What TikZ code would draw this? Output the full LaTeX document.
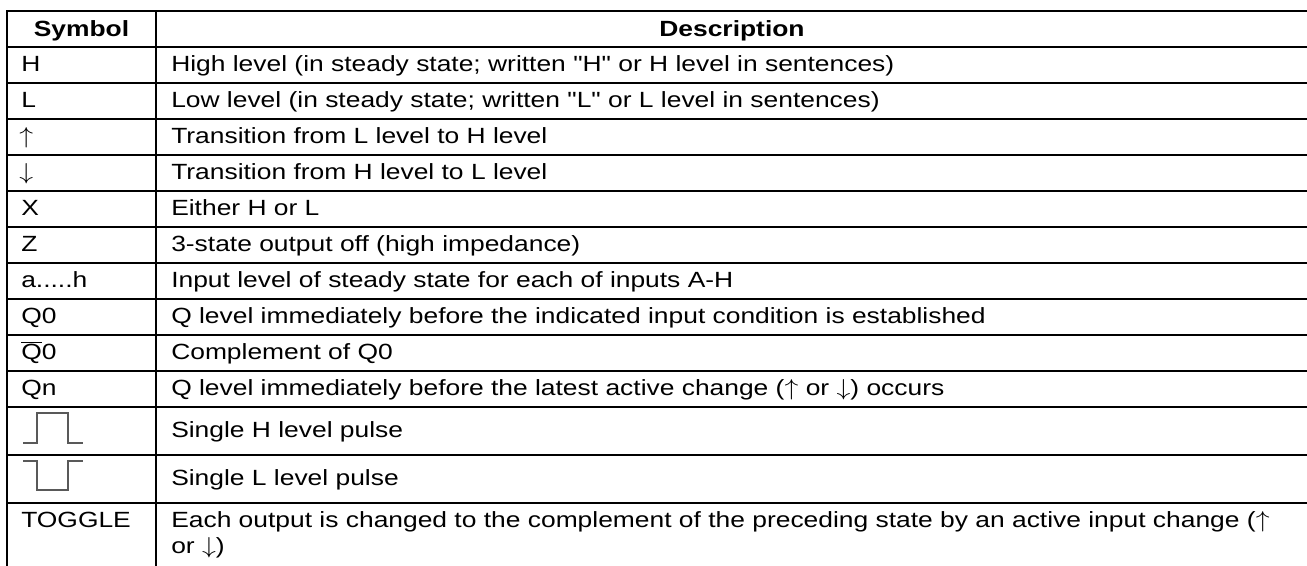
\documentclass[tikz,border=0pt]{standalone}
\usepackage{fontspec}
\setmainfont{Liberation Sans}[Ligatures=TeXOff, FakeStretch=1.2]
\newcommand{\qbar}{$\overline{\hbox{Q}}$0}
\newcommand{\upar}{\scalebox{1.2}[1]{$\uparrow$}}
\newcommand{\dnar}{\scalebox{1.2}[1]{$\downarrow$}}
\begin{document}
\begin{tikzpicture}[x=0.75pt,y=-0.75pt,
  cell/.style={anchor=base west, inner sep=0pt, font=\fontsize{16.5pt}{19.5pt}\selectfont},
  head/.style={anchor=base, inner sep=0pt, font=\fontsize{16.5pt}{19.5pt}\selectfont\bfseries},
  grid/.style={line width=1.5pt, line cap=rect},
  pulse/.style={line width=0.8pt, draw=black!65}]
\useasboundingbox (0,0) rectangle (1307,565);
% grid
\foreach \t in {11,47,83,119,155,191,227,263,299,335,371,407,455,503}
  \draw[grid] (7,\t) -- (1308,\t);
\draw[grid] (7,11) -- (7,566);
\draw[grid] (156,11) -- (156,566);
% header
\node[head] (hs) at (81.5,36) {Symbol};
\node[head] (hd) at (732,36) {Description};
% rows
\node[cell] (s1) at (21,71.5) {H};
\node[cell] (d1) at (171,71.5) {High level (in steady state; written "H" or H level in sentences)};
\node[cell] (s2) at (21,107.5) {L};
\node[cell] (d2) at (171,107.5) {Low level (in steady state; written "L" or L level in sentences)};
\node[cell] (s3) at (19,143.5) {\upar};
\node[cell] (d3) at (171,143.5) {Transition from L level to H level};
\node[cell] (s4) at (19,179.5) {\dnar};
\node[cell] (d4) at (171,179.5) {Transition from H level to L level};
\node[cell] (s5) at (21,215.5) {X};
\node[cell] (d5) at (171,215.5) {Either H or L};
\node[cell] (s6) at (21,251.5) {Z};
\node[cell] (d6) at (171,251.5) {3-state output off (high impedance)};
\node[cell] (s7) at (21,287.5) {a.....h};
\node[cell] (d7) at (171,287.5) {Input level of steady state for each of inputs A-H};
\node[cell] (s8) at (21,323.5) {Q0};
\node[cell] (d8) at (171,323.5) {Q level immediately before the indicated input condition is established};
\node[cell] (s9) at (21,359.5) {\qbar};
\node[cell] (d9) at (171,359.5) {Complement of Q0};
\node[cell] (s10) at (21,395.5) {Qn};
\node[cell] (d10) at (171,395.5) {Q level immediately before the latest active change (\upar{} or \dnar) occurs};
\node[cell] (d11) at (171,437.5) {Single H level pulse};
\node[cell] (d12) at (171,485.5) {Single L level pulse};
\node[cell] (s13) at (21,527.5) {TOGGLE};
\node[cell] (d13) at (171,527.5) {Each output is changed to the complement of the preceding state by an active input change (\upar};
\node[cell] (d13b) at (171,553.5) {or \dnar)};
% pulse symbols
\draw[pulse] (23,443) -- (37,443) -- (37,413) -- (68,413) -- (68,443) -- (83,443);
\draw[pulse] (23,461) -- (37,461) -- (37,490) -- (68,490) -- (68,461) -- (83,461);
\end{tikzpicture}
\end{document}
